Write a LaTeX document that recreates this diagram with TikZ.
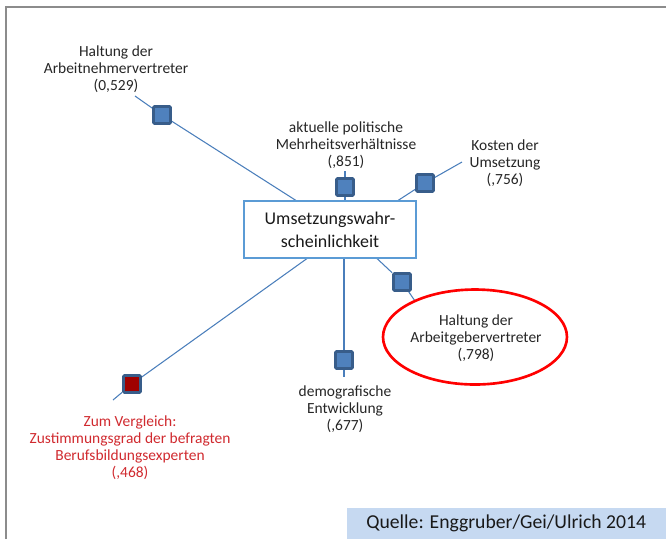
\documentclass[tikz,border=0pt]{standalone}
\usepackage{fontspec}
\setmainfont{Carlito}
\usetikzlibrary{shapes.geometric,backgrounds,calc}
\definecolor{linkblue}{HTML}{4A7EBB}
\definecolor{boxblue}{HTML}{5B9BD5}
\definecolor{markerline}{HTML}{385D8A}
\definecolor{markerfill}{HTML}{4F81BD}
\definecolor{markerred}{HTML}{A00000}
\definecolor{framegray}{HTML}{8C8C8C}
\definecolor{quelleblue}{HTML}{C6D9F1}
\definecolor{textred}{HTML}{D02A2F}

\begin{document}
\begin{tikzpicture}[x=0.02cm,y=-0.02cm,
  link/.style={draw=linkblue,line width=0.6pt},
  marker/.style={draw=markerline,fill=markerfill,line width=1.6pt,minimum size=9.7pt,inner sep=0pt,rounded corners=0.6pt},
  lbl/.style={align=center,text=black!85,font=\fontsize{8.8}{9.7}\selectfont,inner sep=0pt}]
\useasboundingbox (0,0) rectangle (666,539);

\node[draw=boxblue,line width=0.6pt,minimum width=3.44cm,minimum height=1.14cm,align=center,
  font=\fontsize{10.2}{13}\selectfont,text=black!90] (box) at (330,229.5) {Umsetzungswahr-\\scheinlichkeit};

\node[marker] (an) at (162,115) {};
\node[marker] (mh) at (345,187) {};
\node[marker] (ko) at (425,183) {};
\node[marker] (ag) at (402,282) {};
\node[marker] (dm) at (344,360) {};
\node[marker,fill=markerred] (vg) at (132,384) {};

\node[draw=red,line width=1.5pt,ellipse,minimum width=3.68cm,minimum height=1.9cm] (ell) at (475,337) {};

\coordinate (anEnd) at (135,96);
\coordinate (mhEnd) at (345,171);
\coordinate (koEnd) at (462,162);
\coordinate (agEnd) at (415,301);
\coordinate (dmEnd) at (344,377);
\coordinate (vgEnd) at (113,400);

\node[lbl] (anText) at (116,69) {Haltung der\\Arbeitnehmervertreter\\(0,529)};
\node[lbl] (mhText) at (346,145) {aktuelle politische\\Mehrheitsverhältnisse\\(,851)};
\node[lbl] (koText) at (505,163) {Kosten der\\Umsetzung\\(,756)};
\node[lbl] (agText) at (476,338) {Haltung der\\Arbeitgebervertreter\\(,798)};
\node[lbl] (dmText) at (345,409) {demografische\\Entwicklung\\(,677)};
\node[lbl,text=textred] (vgText) at (130,448) {Zum Vergleich:\\Zustimmungsgrad der befragten\\Berufsbildungsexperten\\(,468)};

\node[fill=quelleblue,anchor=south east,minimum width=6.38cm,minimum height=0.62cm,
  font=\fontsize{11.2}{12}\selectfont,text=black!90] (quelle) at (666,539) {Quelle: Enggruber/Gei/Ulrich 2014};

\begin{scope}[on background layer]
\draw[framegray,line width=1.2pt] (6,539) -- (6,7) -- (666,7);
\draw[link] ($(box.north)+(-34,0)$) -- (an) -- (anEnd);
\draw[link] (box.north -| mh) -- (mh) -- (mhEnd);
\draw[link] ($(box.north)+(68,0)$) -- (ko) -- (koEnd);
\draw[link] ($(box.south)+(47,0)$) -- (ag) -- (agEnd);
\draw[link] (box.south -| dm) -- (dm) -- (dmEnd);
\draw[link] ($(box.south)+(-23,0)$) -- (vg) -- (vgEnd);
\end{scope}
\end{tikzpicture}
\end{document}
